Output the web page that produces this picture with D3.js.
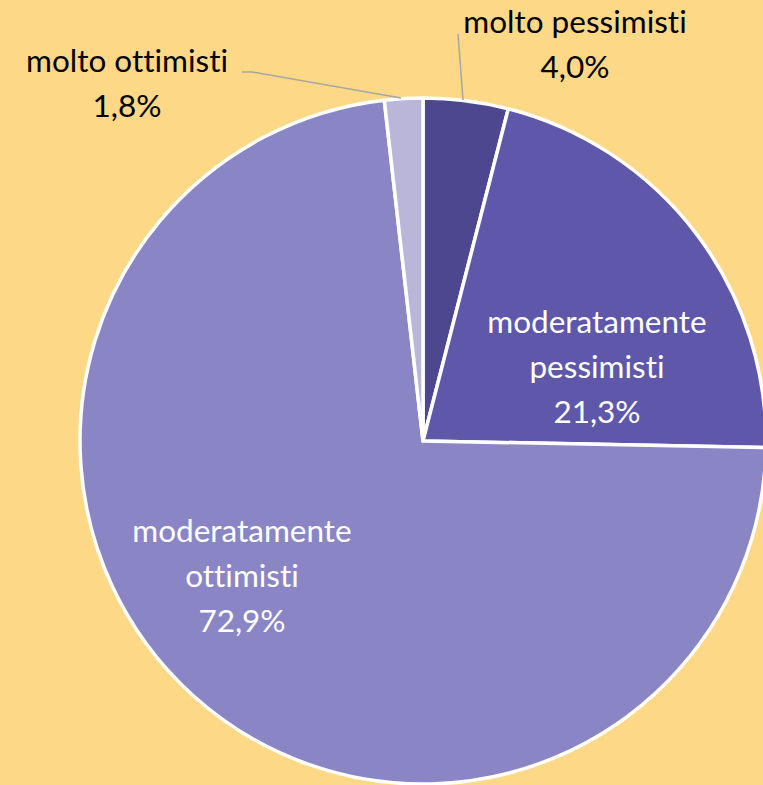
<!DOCTYPE html>
<html><head><meta charset="utf-8">
<script src="https://cdn.jsdelivr.net/npm/d3@7/dist/d3.min.js"></script>
<style>html,body{margin:0;padding:0;background:#FDD886;}svg{display:block;}text{font-variant-ligatures:none;font-feature-settings:"liga" 0;}</style>
</head><body>
<svg id="chart" width="763" height="785"></svg>
<script>
const categories = ["molto pessimisti", "moderatamente pessimisti", "moderatamente ottimisti", "molto ottimisti"];
const values = [4.0, 21.3, 72.9, 1.8];
const labelLines = [["molto pessimisti"], ["moderatamente", "pessimisti"], ["moderatamente", "ottimisti"], ["molto ottimisti"]];
const colors = ["#4D478F", "#5F57A9", "#8A86C6", "#B9B6DA"];

// layout (label anchor positions, not data)
const layout = {
  cx: 423, cy: 441, r: 343,
  labels: [
    {x: 575, y: 33, fill: "#000", leader: [[463, 100], [458, 34]]},
    {x: 597, y: 333, fill: "#fff"},
    {x: 242, y: 542, fill: "#fff"},
    {x: 127, y: 72, fill: "#000", leader: [[401, 98], [252, 72], [242, 72]]}
  ],
  lineH: 45
};

const svg = d3.select("#chart");
svg.append("rect").attr("width", 763).attr("height", 785).attr("fill", "#FDD886");

const pie = d3.pie().sort(null).value(d => d)(values);
const arc = d3.arc().innerRadius(0).outerRadius(layout.r);
const g = svg.append("g").attr("transform", `translate(${layout.cx},${layout.cy})`);
g.selectAll("path").data(pie).join("path")
  .attr("d", arc)
  .attr("fill", (d, i) => colors[i])
  .attr("stroke", "#fff").attr("stroke-width", 3.5).attr("stroke-linejoin", "round");

const fmt = v => d3.format(".1f")(v).replace(".", ",") + "%";
const line = d3.line();
layout.labels.forEach((L, i) => {
  if (L.leader) {
    svg.append("path").attr("d", line(L.leader)).attr("fill", "none")
      .attr("stroke", "#A6A6A6").attr("stroke-width", 1.5);
  }
  const t = svg.append("text").attr("text-anchor", "middle")
    .attr("font-family", "Lato, 'Open Sans', sans-serif")
    .attr("font-size", 31.5).attr("fill", L.fill);
  const lines = labelLines[i].concat([fmt(values[i])]);
  lines.forEach((s, k) => {
    t.append("tspan").attr("x", L.x).attr("y", L.y + k * layout.lineH).text(s);
  });
});
</script>
</body></html>
